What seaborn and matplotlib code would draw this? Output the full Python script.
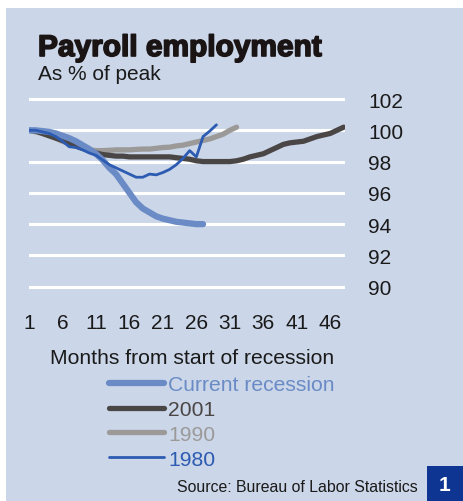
import matplotlib
matplotlib.use("Agg")
import matplotlib.pyplot as plt
import matplotlib.patheffects as pe
import seaborn as sns
import pandas as pd
from matplotlib.patches import Rectangle
from matplotlib.lines import Line2D

# ---- data (as % of peak, by month from start of recession) ----
current = [100.0, 100.0, 99.95, 99.9, 99.8, 99.65, 99.5, 99.3, 99.05, 98.8,
           98.5, 98.1, 97.6, 97.2, 96.6, 96.0, 95.4, 95.0, 94.75, 94.5,
           94.35, 94.25, 94.15, 94.1, 94.05, 94.0, 94.0]
y2001 = [100.0, 99.95, 99.8, 99.65, 99.5, 99.35, 99.2, 99.0, 98.85, 98.7,
         98.55, 98.45, 98.4, 98.35, 98.35, 98.3, 98.3, 98.3, 98.3, 98.3,
         98.3, 98.3, 98.25, 98.2, 98.15, 98.05, 98.0, 98.0, 98.0, 98.0,
         98.0, 98.05, 98.15, 98.3, 98.4, 98.5, 98.7, 98.9, 99.1, 99.2,
         99.25, 99.3, 99.45, 99.6, 99.7, 99.8, 100.0, 100.2]
y1990 = [100.0, 99.9, 99.8, 99.65, 99.5, 99.3, 99.15, 99.0, 98.85, 98.75,
         98.7, 98.7, 98.72, 98.75, 98.75, 98.75, 98.78, 98.8, 98.8, 98.85,
         98.9, 98.92, 99.0, 99.05, 99.15, 99.25, 99.35, 99.45, 99.6, 99.75,
         100.0, 100.2]
y1980 = [100.0, 100.0, 99.9, 99.8, 99.6, 99.3, 98.95, 98.9, 98.75, 98.55,
         98.4, 98.1, 97.8, 97.6, 97.4, 97.2, 97.0, 97.0, 97.2, 97.15,
         97.3, 97.5, 97.8, 98.2, 98.7, 98.3, 99.6, 99.95, 100.35]

series_names = ["Current recession", "2001", "1990", "1980"]
series_values = [current, y2001, y1990, y1980]
x_ticks = [1, 6, 11, 16, 21, 26, 31, 36, 41, 46]
y_ticks = [90, 92, 94, 96, 98, 100, 102]

colors = {"Current recession": "#6a8bc5", "2001": "#4b4646",
          "1990": "#9b9a98", "1980": "#2c5bb1"}
widths = {"Current recession": 4.5, "2001": 3.8, "1990": 3.8, "1980": 2.0}

rows = []
for name, vals in zip(series_names, series_values):
    for i, v in enumerate(vals):
        rows.append({"month": i + 1, "value": v, "series": name})
df = pd.DataFrame(rows)

BG = "#cbd6e8"
plt.rcParams["font.family"] = ["Liberation Sans", "DejaVu Sans"]

W, H = 463, 502
fig = plt.figure(figsize=(W / 100, H / 100), dpi=100)
fig.patch.set_facecolor("white")
fig.patches.append(Rectangle((6 / W, 0), 1 - 6 / W, 1 - 9 / H,
                             transform=fig.transFigure, facecolor=BG,
                             edgecolor="none", zorder=-5))

ax = fig.add_axes([29 / W, 1 - 290.8 / H, (345 - 29) / W, (290.8 - 96.9) / H])
ax.set_facecolor("none")
ax.set_zorder(2)
for y in y_ticks:
    ax.axhline(y, color="white", lw=2.2, zorder=1)

draw_order = ["1990", "2001", "Current recession", "1980"]
for z, name in enumerate(draw_order):
    sub = df[df["series"] == name]
    sns.lineplot(data=sub, x="month", y="value", ax=ax, color=colors[name],
                 lw=widths[name], zorder=3 + z, legend=False,
                 solid_capstyle="round", solid_joinstyle="round")

ax.set_xlim(1, 48.2)
ax.set_ylim(89.8, 102.2)
ax.set_xticks(x_ticks)
ax.set_yticks(y_ticks)
ax.yaxis.tick_right()
ax.tick_params(axis="y", length=0, pad=16.5, labelsize=15, colors="#1a1a1a")
ax.tick_params(axis="x", length=0, pad=17, labelsize=15, colors="#1a1a1a")
ax.set_xlabel("")
ax.set_ylabel("")
for s in ax.spines.values():
    s.set_visible(False)
ax.grid(False)

fig.text(38 / W, 1 - 57 / H, "Payroll employment", fontsize=21.5,
         fontweight="bold", color="#1a1414", va="baseline", ha="left",
         path_effects=[pe.withStroke(linewidth=1.2, foreground="#1a1414")])
fig.text(38 / W, 1 - 80 / H, "As % of peak", fontsize=15, color="#1a1a1a",
         va="baseline", ha="left")
fig.text(192 / W, 1 - 358 / H, "Months from start of recession",
         fontsize=15.2, color="#1a1a1a", va="center", ha="center")

handles = [Line2D([], [], color=colors[n], lw=widths[n], solid_capstyle="round")
           for n in series_names]
leg = fig.legend(handles, series_names, loc="upper left",
                 bbox_to_anchor=(109 / W, 1 - 376 / H), frameon=False,
                 fontsize=15.2, handlelength=2.6, handletextpad=0.2,
                 labelspacing=0.28, borderpad=0, borderaxespad=0)
for t, n in zip(leg.get_texts(), series_names):
    t.set_color(colors[n])

fig.text(418 / W, 1 - 488 / H, "Source: Bureau of Labor Statistics",
         fontsize=11.4, color="#1a1a1a", va="center", ha="right")
fig.patches.append(Rectangle((427 / W, 0), (W - 427) / W, (H - 467) / H,
                             transform=fig.transFigure, facecolor="#0f3592",
                             edgecolor="none", zorder=1))
fig.text(445 / W, 1 - 486 / H, "1", fontsize=15, fontweight="bold",
         color="white", va="center", ha="center")

fig.savefig("out.png", dpi=100)
